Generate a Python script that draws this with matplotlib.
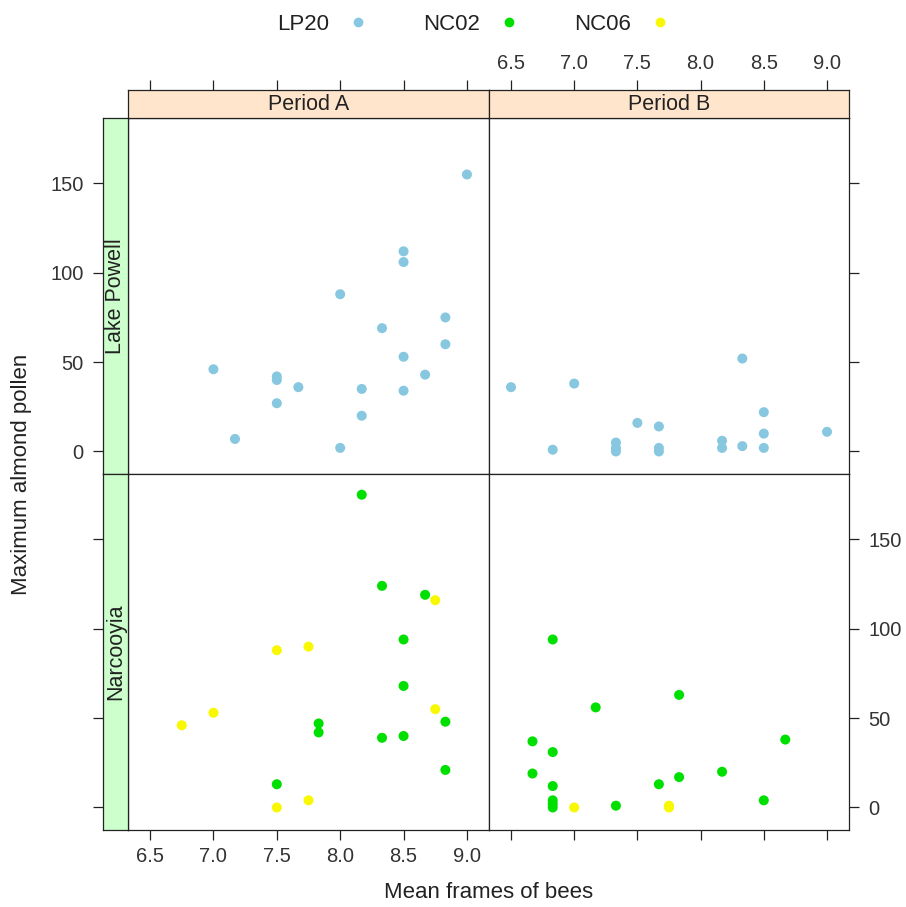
import matplotlib
matplotlib.use("Agg")
import matplotlib.pyplot as plt
from matplotlib.lines import Line2D

plt.rcParams["font.family"] = ["Liberation Sans", "DejaVu Sans"]

# Lake Powell (LP20), period A and B
lp_a_x = [9.0, 8.5, 8.5, 8.0, 8.33, 8.83, 8.83, 8.5, 8.67, 7.0, 7.5, 7.5, 7.67, 8.17, 8.5, 7.5, 8.17, 7.17, 8.0]
lp_a_y = [155, 112, 106, 88, 69, 75, 60, 53, 43, 46, 42, 40, 36, 35, 34, 27, 20, 7, 2]
lp_b_x = [6.5, 7.0, 6.83, 7.33, 7.33, 7.33, 7.5, 7.67, 7.67, 7.67, 8.17, 8.17, 8.33, 8.33, 8.5, 8.5, 8.5, 9.0]
lp_b_y = [36, 38, 1, 5, 2, 0, 16, 14, 2, 0, 6, 2, 52, 3, 22, 10, 2, 11]

# Narcooyia (NC02 and NC06), period A and B
nc02_a_x = [8.17, 8.33, 8.67, 8.5, 8.5, 7.83, 7.83, 8.33, 8.5, 8.83, 8.83, 7.5]
nc02_a_y = [175, 124, 119, 94, 68, 47, 42, 39, 40, 48, 21, 13]
nc06_a_x = [8.75, 7.5, 7.75, 6.75, 7.0, 8.75, 7.75, 7.5]
nc06_a_y = [116, 88, 90, 46, 53, 55, 4, 0]
nc02_b_x = [6.83, 7.83, 7.17, 6.67, 6.83, 8.67, 6.67, 8.17, 7.83, 7.67, 6.83, 6.83, 6.83, 6.83, 7.33, 8.5]
nc02_b_y = [94, 63, 56, 37, 31, 38, 19, 20, 17, 13, 12, 4, 2, 0, 1, 4]
nc06_b_x = [7.0, 7.75, 7.75]
nc06_b_y = [0, 1, 0]

periods = ["Period A", "Period B"]
sites = ["Lake Powell", "Narcooyia"]
hives = ["LP20", "NC02", "NC06"]
hive_colors = {"LP20": "#87c8e0", "NC02": "#00e000", "NC06": "#f8f800"}

x_ticks = [6.5, 7.0, 7.5, 8.0, 8.5, 9.0]
y_ticks = [0, 50, 100, 150]
XLIM = (6.326, 9.174)
YLIM = (-12.6, 186.6)

W, H = 906, 907
fig = plt.figure(figsize=(W / 100, H / 100), dpi=100)


def box(x0, y0, x1, y1):
    # pixel box (top-left origin) -> figure fraction rect
    return [x0 / W, 1 - y1 / H, (x1 - x0) / W, (y1 - y0) / H]


col_px = [(128, 489), (489, 849)]
row_px = [(118, 474), (474, 830)]

panel_data = {
    (0, 0): [("LP20", lp_a_x, lp_a_y)],
    (0, 1): [("LP20", lp_b_x, lp_b_y)],
    (1, 0): [("NC02", nc02_a_x, nc02_a_y), ("NC06", nc06_a_x, nc06_a_y)],
    (1, 1): [("NC02", nc02_b_x, nc02_b_y), ("NC06", nc06_b_x, nc06_b_y)],
}

TEXT = "#333333"
tick_kw = dict(length=7, width=0.9, color="#222222", labelsize=14.5, labelcolor=TEXT)


def style_spines(a):
    for sp in a.spines.values():
        sp.set_linewidth(0.9)
        sp.set_color("#222222")


for r, (y0, y1) in enumerate(row_px):
    for c, (x0, x1) in enumerate(col_px):
        ax = fig.add_axes(box(x0, y0, x1, y1))
        for hive, xs, ys in panel_data[(r, c)]:
            ax.scatter(xs, ys, s=52, color=hive_colors[hive], edgecolors="none", zorder=3)
        ax.set_xlim(*XLIM)
        ax.set_ylim(*YLIM)
        style_spines(ax)
        ax.tick_params(**tick_kw)
        ax.tick_params(left=False, labelleft=False, top=False, labeltop=False)
        ax.set_xticks(x_ticks)
        ax.set_yticks(y_ticks)
        ax.xaxis.set_major_formatter(plt.FormatStrFormatter("%.1f"))
        # bottom row: ticks on bottom, labels only under period A
        if r == 1:
            ax.tick_params(axis="x", bottom=True, labelbottom=(c == 0), pad=5)
        else:
            ax.tick_params(axis="x", bottom=False, labelbottom=False)
        # right column: ticks on right, labels only for bottom row
        if c == 1:
            ax.tick_params(axis="y", right=True, labelright=(r == 1), pad=7)
        else:
            ax.tick_params(axis="y", right=False, labelright=False)

        # strip above the top row
        if r == 0:
            sax = fig.add_axes(box(x0, 90, x1, 118))
            sax.set_facecolor("#ffe5cc")
            sax.set_xlim(*XLIM)
            sax.set_ylim(0, 1)
            sax.set_yticks([])
            sax.set_xticks(x_ticks)
            sax.xaxis.set_major_formatter(plt.FormatStrFormatter("%.1f"))
            sax.tick_params(**tick_kw)
            sax.tick_params(bottom=False, labelbottom=False, top=True, labeltop=(c == 1), pad=5)
            style_spines(sax)
            sax.text(0.5, 0.48, periods[c], transform=sax.transAxes, ha="center",
                     va="center", fontsize=15.5, color="#222222")

        # strip left of the first column
        if c == 0:
            lax = fig.add_axes(box(103, y0, 128, y1))
            lax.set_facecolor("#ccffcc")
            lax.set_ylim(*YLIM)
            lax.set_xlim(0, 1)
            lax.set_xticks([])
            lax.set_yticks(y_ticks)
            lax.tick_params(**tick_kw)
            lax.tick_params(left=True, labelleft=(r == 0), pad=7)
            style_spines(lax)
            lax.text(0.5, 0.5, sites[r], transform=lax.transAxes, ha="center",
                     va="center", rotation=90, fontsize=15.5, color="#222222")

fig.text(489 / W, 1 - 893 / H, "Mean frames of bees", ha="center", va="center",
         fontsize=16, color="#222222")
fig.text(22 / W, 1 - 474 / H, "Maximum almond pollen", ha="center", va="center",
         rotation=90, fontsize=16, color="#222222")

handles = [Line2D([], [], linestyle="none", marker="o", markersize=7,
                  markerfacecolor=hive_colors[h], markeredgecolor="none") for h in hives]
fig.legend(handles, hives, loc="center", bbox_to_anchor=(474 / W, 1 - 24 / H), ncol=3,
           markerfirst=False, frameon=False, fontsize=16, columnspacing=2.45,
           handletextpad=0.8, handlelength=1.0, labelcolor="#222222")

fig.savefig("out.png", dpi=100, facecolor="white")
